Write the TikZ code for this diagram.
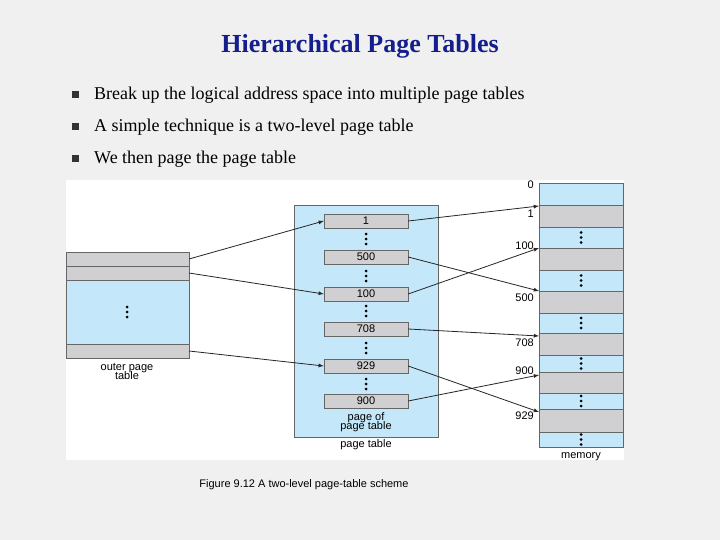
\documentclass[tikz,border=0pt]{standalone}
\usepackage{fontspec}
\setmainfont{Liberation Serif}
\setsansfont{Liberation Sans}
\usetikzlibrary{positioning}
\definecolor{pgblue}{RGB}{196,232,250}
\definecolor{pggray}{RGB}{208,208,210}
\definecolor{ttl}{RGB}{20,30,140}
\tikzset{
  grayrow/.style={draw=black!60, fill=pggray, inner sep=0pt},
  bluerow/.style={draw=black!60, fill=pgblue, inner sep=0pt},
  lbl/.style={font=\sffamily\fontsize{11}{11}\selectfont, inner sep=1pt},
  ptr/.style={->, >=latex, thick, black!85},
  bullet/.style={fill=black!80, minimum size=7pt, inner sep=0pt},
  item/.style={anchor=west, font=\fontsize{18}{18}\selectfont, inner sep=0pt}
}
\newcommand{\threedots}[2]{%
  \foreach \d in {-5,0,5} \fill (#1,#2+\d) circle (1.5pt);}
\begin{document}
\begin{tikzpicture}[x=1pt, y=-1pt]
  \useasboundingbox (0,0) rectangle (720,540);
  \fill[gray!12] (0,0) rectangle (720,540);
  \node[font=\bfseries\fontsize{26}{26}\selectfont, text=ttl] (title) at (360,46) {Hierarchical Page Tables};
  \foreach \y/\t [count=\i] in {95/Break up the logical address space into multiple page tables,
      127/A simple technique is a two-level page table, 159/We then page the page table} {
    \node[bullet] (b\i) at (75,\y) {};
    \node[item] (it\i) at (94,\y) {\t};
  }
  \fill[white] (66,180) rectangle (624,460);

  % outer page table
  \path[bluerow] (66,252) rectangle (189,358);
  \path[grayrow] (66,252) rectangle (189,266);
  \path[grayrow] (66,266) rectangle (189,280);
  \path[grayrow] (66,344) rectangle (189,358);
  \threedots{127}{312}
  \coordinate (o1) at (189,259);
  \coordinate (o2) at (189,273);
  \coordinate (o3) at (189,351);
  \node[lbl, align=center] (outer) at (127,371) {outer page\\[-2pt]table};

  % page of page table
  \path[bluerow] (294,205) rectangle (438,437);
  \foreach \n/\y in {p1/221, p500/257, p100/294, p708/329, p929/366, p900/401}
    \node[grayrow, lbl, minimum width=84pt, minimum height=14pt] (\n) at (366,\y) {\strut};
  \foreach \n/\t in {p1/1, p500/500, p100/100, p708/708, p929/929, p900/900}
    \node[lbl] at (\n) {\t};
  \foreach \y in {239, 276, 311, 348, 384} {\threedots{366}{\y}}
  \node[lbl, align=center] (pop) at (366,422) {page of\\[-2pt]page table};
  \node[lbl] (ptlabel) at (366,445) {page table};

  % memory
  \foreach \a/\b [count=\i] in {183/205, 205/227, 227/248, 248/270, 270/291, 291/313,
      313/333, 333/355, 355/372, 372/393, 393/409, 409/432, 432/447} {
    \pgfmathsetmacro{\midy}{(\a+\b)/2}
    \ifodd\i
      \path[bluerow] (539,\a) rectangle (623,\b);
      \ifnum\i>1 \threedots{581}{\midy}\fi
    \else
      \path[grayrow] (539,\a) rectangle (623,\b);
    \fi
  }
  \node[lbl] (mem) at (581,457) {memory};
  \foreach \n/\y/\t in {m0/185/0, m1/214/1, m100/246/100, m500/298/500,
      m708/343/708, m900/371/900, m929/416/929}
    \node[lbl, anchor=east] (\n) at (535,\y) {\t};
  \foreach \n/\y in {f1/206, f100/248, f500/291, f708/336, f900/375, f929/412}
    \coordinate (\n) at (539,\y);

  % pointers
  \draw[ptr] (o1) -- (p1.west);
  \draw[ptr] (o2) -- (p100.west);
  \draw[ptr] (o3) -- (p929.west);
  \draw[ptr] (p1.east) -- (f1);
  \draw[ptr] (p500.east) -- (f500);
  \draw[ptr] (p100.east) -- (f100);
  \draw[ptr] (p708.east) -- (f708);
  \draw[ptr] (p929.east) -- (f929);
  \draw[ptr] (p900.east) -- (f900);

  \node[lbl] (cap) at (304,485) {Figure 9.12  A two-level  page-table scheme};
\end{tikzpicture}
\end{document}
